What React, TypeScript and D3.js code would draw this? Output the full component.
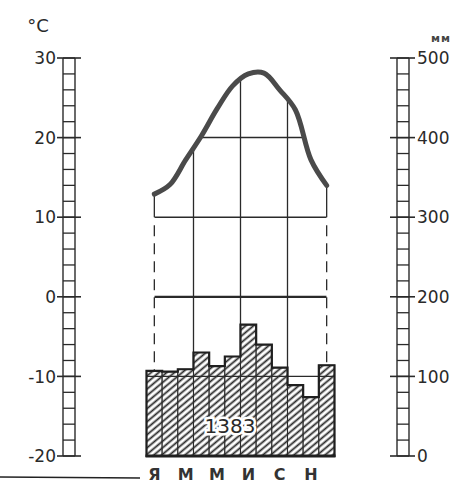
import * as d3 from "d3";

// Climate diagram: monthly temperature (°C) and precipitation (mm)
const monthLetters = ["Я", "Ф", "М", "А", "М", "И", "И", "А", "С", "О", "Н", "Д"];
const shownMonths = [0, 2, 4, 6, 8, 10];
const temperature = [12.9, 14.1, 17.2, 20.2, 23.6, 26.5, 28.0, 28.1, 26.0, 23.5, 17.2, 14.0];
const precipitation = [107, 106, 109, 130, 113, 125, 165, 140, 111, 89, 74, 114];
const tempTicks = [30, 20, 10, 0, -10, -20];
const precipTicks = [500, 400, 300, 200, 100, 0];
const gridTemps = [20, 10, 0];
const quarterStarts = [3, 6, 9];
const annualTotal = "1383";

const W = 475;
const H = 483;
const FONT = "'DejaVu Sans', 'Liberation Sans', sans-serif";
const INK = "#2a2a2a";

export default function App() {
  const months = d3.range(12);
  const x = d3.scaleBand<number>().domain(months).range([146.5, 334.5]).padding(0);
  const cx = (i: number) => (x(i) ?? 0) + x.bandwidth() / 2;
  const yT = d3.scaleLinear().domain([-20, 30]).range([456, 58]);
  const yP = d3.scaleLinear().domain([0, 500]).range([456, 58]);

  const curve = d3.curveCatmullRom.alpha(0.5);

  const tempLine = d3
    .line<number>()
    .x((_, i) => cx(i))
    .y(d => yT(d))
    .curve(curve);

  const underCurve = d3
    .area<number>()
    .x((_, i) => cx(i))
    .y0(yT(-20))
    .y1(d => yT(d))
    .curve(curve);

  // step outline of the precipitation bars
  const outline = d3.path();
  const x0 = x(0) ?? 0;
  const xEnd = x.range()[1];
  outline.moveTo(x0, yP(0));
  precipitation.forEach((p, i) => {
    const left = x(i) ?? 0;
    outline.lineTo(left, yP(p));
    outline.lineTo(left + x.bandwidth(), yP(p));
  });
  outline.lineTo(xEnd, yP(0));
  outline.closePath();

  // left temperature ladder
  const lL = 63, lR = 75;
  // right precipitation ladder
  const rL = 397, rR = 409;

  const first = 0, last = 11;

  return (
    <svg width={W} height={H} style={{ position: "absolute", left: 0, top: 0, background: "#fff" }}>
      <defs>
        <pattern id="hatch" patternUnits="userSpaceOnUse" width="5" height="5" patternTransform="rotate(-40)">
          <rect width="5" height="5" fill="#fff" />
          <line x1="0" y1="2.5" x2="5" y2="2.5" stroke="#262626" strokeWidth="1.8" />
        </pattern>
        <clipPath id="under">
          <path d={underCurve(temperature) ?? ""} />
        </clipPath>
      </defs>

      {/* temperature axis ladder */}
      <g stroke={INK} fill="none">
        <line x1={lL} x2={lL} y1={yT(30)} y2={yT(-20)} strokeWidth={1.4} />
        <line x1={lR} x2={lR} y1={yT(30)} y2={yT(-20)} strokeWidth={1.4} />
        {d3.range(-20, 31, 2).map(t => (
          <line key={t} x1={lL} x2={lR} y1={yT(t)} y2={yT(t)} strokeWidth={1.3} />
        ))}
        {tempTicks.map(t => (
          <line key={"tt" + t} x1={lL - 6} x2={lR + 6} y1={yT(t)} y2={yT(t)} strokeWidth={1.6} />
        ))}
      </g>
      <g fontFamily={FONT} fontSize={17} fill={INK} textAnchor="end">
        {tempTicks.map(t => (
          <text key={t} x={lL - 7} y={yT(t)} dy="0.36em">
            {t}
          </text>
        ))}
      </g>
      <text x={38} y={32} fontFamily={FONT} fontSize={18} fill={INK} textAnchor="middle">
        °C
      </text>

      {/* precipitation axis ladder */}
      <g stroke={INK} fill="none">
        <line x1={rL} x2={rL} y1={yP(500)} y2={yP(0)} strokeWidth={1.4} />
        <line x1={rR} x2={rR} y1={yP(500)} y2={yP(0)} strokeWidth={1.4} />
        {d3.range(0, 501, 20).map(p => (
          <line key={p} x1={rL} x2={rR} y1={yP(p)} y2={yP(p)} strokeWidth={1.3} />
        ))}
        {precipTicks.map(p => (
          <line key={"pt" + p} x1={rL - 7} x2={rR + 6} y1={yP(p)} y2={yP(p)} strokeWidth={1.6} />
        ))}
      </g>
      <g fontFamily={FONT} fontSize={17} fill={INK} textAnchor="start">
        {precipTicks.map(p => (
          <text key={p} x={rR + 8} y={yP(p)} dy="0.36em">
            {p}
          </text>
        ))}
      </g>
      <text x={441} y={42} fontFamily={FONT} fontSize={11} fontWeight="bold" fill="#444" textAnchor="middle" letterSpacing="1">
        мм
      </text>

      {/* grid under the temperature curve */}
      <g clipPath="url(#under)" stroke={INK}>
        {gridTemps.map(t => (
          <line key={t} x1={cx(first)} x2={cx(last)} y1={yT(t)} y2={yT(t)} strokeWidth={t === 0 ? 2.2 : 1.5} />
        ))}
        {quarterStarts.map(q => (
          <line key={q} x1={x(q)} x2={x(q)} y1={yT(30)} y2={yP(0)} strokeWidth={1.3} />
        ))}
      </g>

      {/* dashed ends of the diagram */}
      {[first, last].map(i => (
        <g key={i} stroke={INK} strokeWidth={1.3}>
          <line x1={cx(i)} x2={cx(i)} y1={yT(temperature[i])} y2={yT(10)} />
          <line x1={cx(i)} x2={cx(i)} y1={yT(10) + 8} y2={yP(precipitation[i])} strokeDasharray="11 7" />
        </g>
      ))}

      {/* precipitation bars */}
      <g>
        {precipitation.map((p, i) => (
          <rect
            key={i}
            x={x(i)}
            y={yP(p)}
            width={x.bandwidth()}
            height={yP(0) - yP(p)}
            fill="url(#hatch)"
            stroke={INK}
            strokeWidth={1.1}
          />
        ))}
      </g>
      <line x1={x0} x2={xEnd} y1={yT(-10)} y2={yT(-10)} stroke={INK} strokeWidth={1.4} />
      <path d={outline.toString()} fill="none" stroke="#1f1f1f" strokeWidth={2.2} strokeLinejoin="miter" />
      <line x1={x0 - 1} x2={xEnd + 1} y1={yP(0)} y2={yP(0)} stroke="#1f1f1f" strokeWidth={3} />

      <text
        x={230}
        y={433}
        fontFamily={FONT}
        fontSize={20}
        fill={INK}
        textAnchor="middle"
        stroke="#fff"
        strokeWidth={5}
        paintOrder="stroke"
      >
        {annualTotal}
      </text>

      {/* temperature curve */}
      <path
        d={tempLine(temperature) ?? ""}
        fill="none"
        stroke="#4a4a4a"
        strokeWidth={5}
        strokeLinecap="round"
        strokeLinejoin="round"
      />

      {/* month letters */}
      <g fontFamily={FONT} fontSize={16} fontWeight="bold" fill="#333" textAnchor="middle">
        {shownMonths.map(i => (
          <text key={i} x={cx(i)} y={480}>
            {monthLetters[i]}
          </text>
        ))}
      </g>

      <line x1={0} x2={140} y1={477} y2={478} stroke="#222" strokeWidth={1.6} />
    </svg>
  );
}
